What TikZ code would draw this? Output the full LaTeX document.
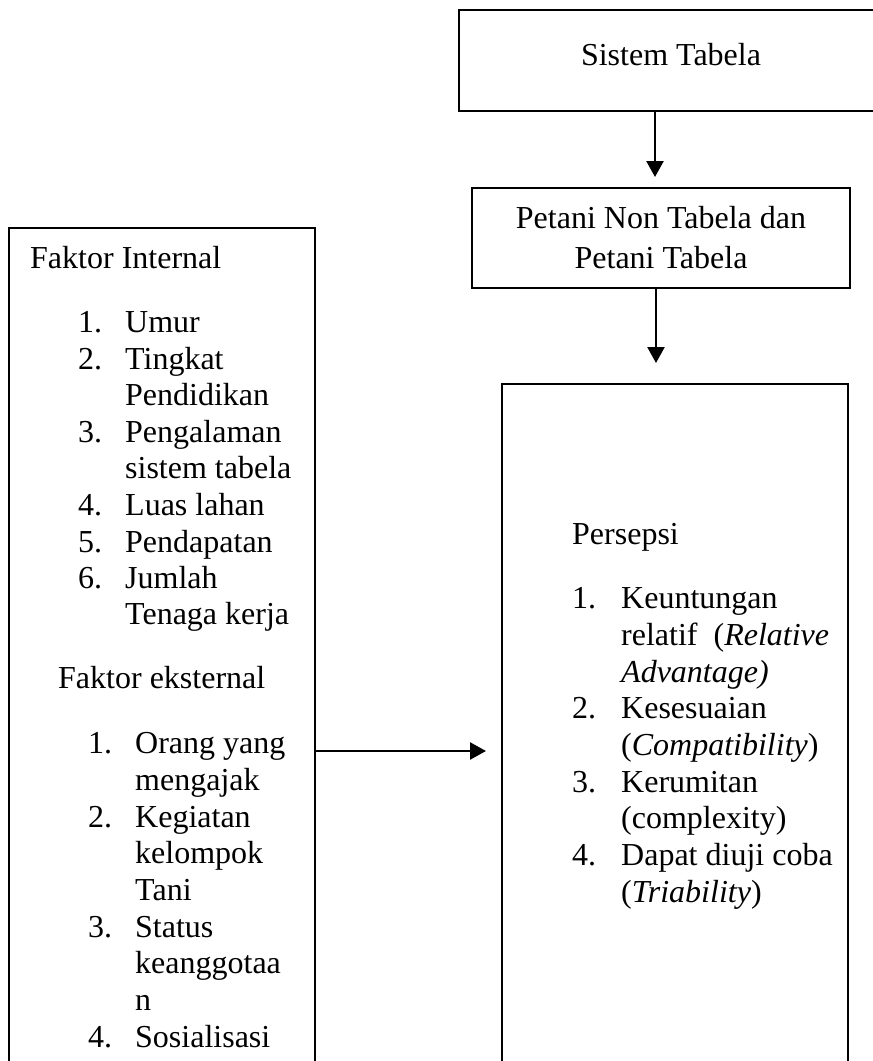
\documentclass[tikz,border=0pt]{standalone}
\usepackage{fontspec}
\setmainfont{Liberation Serif}
\usetikzlibrary{arrows.meta}
\newcommand{\fsz}{\fontsize{32}{36.7}\selectfont}
\begin{document}
\begin{tikzpicture}[x=1pt,y=-1pt,
  box/.style={draw=black, line width=2.5pt, rectangle, inner sep=0pt},
  txt/.style={anchor=base west, inner sep=0pt, font=\fsz},
  ctxt/.style={anchor=base, inner sep=0pt, font=\fsz},
  arr/.style={line width=2.5pt, -{Triangle[length=16pt,width=17pt]}}]
\useasboundingbox (0,0) rectangle (873,1061);
\clip (0,0) rectangle (873,1061);
\fill[white] (0,0) rectangle (873,1061);
% boxes
\node[box, minimum width=424pt, minimum height=101pt] (sistem) at (671,60.5) {};
\node[box, minimum width=378pt, minimum height=100pt] (petani) at (661,238) {};
\node[box, minimum width=306pt, minimum height=852pt] (left) at (162,654) {};
\node[box, minimum width=346pt, minimum height=696pt] (right) at (675,732) {};
% top texts
\node[ctxt] (t1) at (671,65) {Sistem Tabela};
\node[ctxt] (t2) at (661,228) {Petani Non Tabela dan};
\node[ctxt] (t3) at (661,268) {Petani Tabela};
% left box
\node[txt] (fi) at (30,268) {Faktor Internal};
\node[txt] (n1) at (78,332) {1.};  \node[txt] (i1) at (125,332) {Umur};
\node[txt] (n2) at (78,369) {2.};  \node[txt] (i2) at (125,369) {Tingkat};
\node[txt] (i2b) at (125,405) {Pendidikan};
\node[txt] (n3) at (78,442) {3.};  \node[txt] (i3) at (125,442) {Pengalaman};
\node[txt] (i3b) at (125,478) {sistem tabela};
\node[txt] (n4) at (78,515) {4.};  \node[txt] (i4) at (125,515) {Luas lahan};
\node[txt] (n5) at (78,552) {5.};  \node[txt] (i5) at (125,552) {Pendapatan};
\node[txt] (n6) at (78,588) {6.};  \node[txt] (i6) at (125,588) {Jumlah};
\node[txt] (i6b) at (125,624) {Tenaga kerja};
\node[txt] (fe) at (58,688) {Faktor eksternal};
\node[txt] (e1) at (88,753) {1.};  \node[txt] (j1) at (135,753) {Orang yang};
\node[txt] (j1b) at (135,790) {mengajak};
\node[txt] (e2) at (88,827) {2.};  \node[txt] (j2) at (135,827) {Kegiatan};
\node[txt] (j2b) at (135,863) {kelompok};
\node[txt] (j2c) at (135,900) {Tani};
\node[txt] (e3) at (88,937) {3.};  \node[txt] (j3) at (135,937) {Status};
\node[txt] (j3b) at (135,973) {keanggotaa};
\node[txt] (j3c) at (135,1010) {n};
\node[txt] (e4) at (88,1047) {4.}; \node[txt] (j4) at (135,1047) {Sosialisasi};
% right box
\node[txt] (ps) at (572,544) {Persepsi};
\node[txt] (p1) at (572,608) {1.}; \node[txt] (q1) at (621,608) {Keuntungan};
\node[txt] (q1b) at (621,645) {relatif~ (\textit{Relative}};
\node[txt] (q1c) at (621,682) {\textit{Advantage)}};
\node[txt] (p2) at (572,718) {2.}; \node[txt] (q2) at (621,718) {Kesesuaian};
\node[txt] (q2b) at (621,755) {(\textit{Compatibility})};
\node[txt] (p3) at (572,792) {3.}; \node[txt] (q3) at (621,792) {Kerumitan};
\node[txt] (q3b) at (621,828) {(complexity)};
\node[txt] (p4) at (572,865) {4.}; \node[txt] (q4) at (621,865) {Dapat diuji coba};
\node[txt] (q4b) at (621,902) {(\textit{Triability})};
% arrows
\coordinate (a1) at (655,177);
\coordinate (a2) at (656,363);
\coordinate (a3) at (486,751);
\draw[arr] (sistem.south -| a1) -- (a1);
\draw[arr] (petani.south -| a2) -- (a2);
\draw[arr] (left.east |- a3) -- (a3);
\end{tikzpicture}
\end{document}
